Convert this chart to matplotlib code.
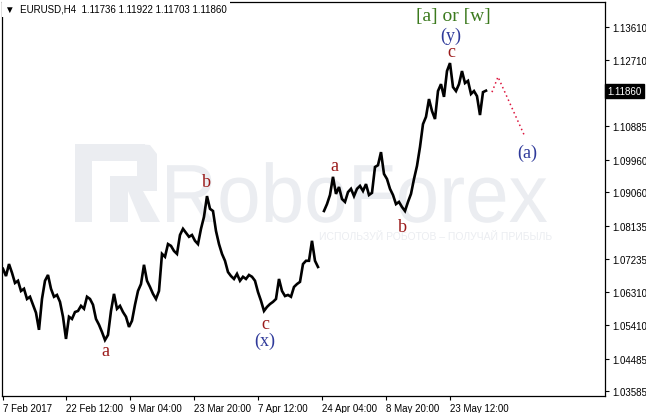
import numpy as np
import matplotlib
matplotlib.use("Agg")
import matplotlib.pyplot as plt
from matplotlib.patches import Polygon, PathPatch
from matplotlib.textpath import TextPath
from matplotlib.font_manager import FontProperties
from matplotlib.transforms import Affine2D, IdentityTransform

# EURUSD H4 closes (one value for roughly every two bars), NaN = gap
close = [
    1.0696, 1.0676, 1.0709, 1.0685, 1.0657, 1.0663, 1.0635, 1.0641, 1.0613, 1.0619,
    1.0597, 1.0575, 1.0528, 1.0613, 1.0663, 1.0679, 1.0641, 1.0619, 1.0624, 1.0605,
    1.0564, 1.0503, 1.0564, 1.0558, 1.0577, 1.0580, 1.0594, 1.0586, 1.0619, 1.0613,
    1.0597, 1.0558, 1.0542, 1.0522, 1.0500, 1.0514, 1.0580, 1.0627, 1.0586, 1.0594,
    1.0577, 1.0564, 1.0536, 1.0553, 1.0597, 1.0635, 1.0654, 1.0707, 1.0663, 1.0646,
    1.0627, 1.0613, 1.0635, 1.0737, 1.0729, 1.0764, 1.0759, 1.0745, 1.0737, 1.0789,
    1.0806, 1.0795, 1.0784, 1.0789, 1.0773, 1.0764, 1.0806, 1.0839, 1.0896, 1.0861,
    1.0855, 1.0800, 1.0764, 1.0737, 1.0718, 1.0687, 1.0676, 1.0668, 1.0682, 1.0663,
    1.0674, 1.0668, 1.0679, 1.0674, 1.0663, 1.0632, 1.0608, 1.0580, 1.0591, 1.0599,
    1.0605, 1.0613, 1.0668, 1.0635, 1.0621, 1.0624, 1.0619, 1.0646, 1.0654, 1.0660,
    1.0709, 1.0718, 1.0718, 1.0773, 1.0718, 1.0701, np.nan, 1.0855, 1.0874, 1.0899,
    1.0949, 1.0902, 1.0921, 1.0888, 1.0880, 1.0907, 1.0916, 1.0896, 1.0916, 1.0924,
    1.0910, 1.0929, 1.0899, 1.0905, 1.0976, 1.0981, 1.1017, 1.0957, 1.0943, 1.0916,
    1.0899, 1.0874, 1.0880, 1.0866, 1.0855, 1.0880, 1.0902, 1.0943, 1.0979, 1.1031,
    1.1094, 1.1114, 1.1163, 1.1130, 1.1108, 1.1185, 1.1204, 1.1169, 1.1240, 1.1262,
    1.1196, 1.1185, 1.1204, 1.1240, 1.1207, 1.1213, 1.1177, 1.1185, 1.1171, 1.1119,
    1.1182, 1.1186,
]

# projected move (dotted)
proj_bars = [163, 165, 174]
proj_prices = [1.1182, 1.1224, 1.1059]

price_ticks = [1.13610, 1.12710, 1.10885, 1.09960, 1.09060, 1.08135,
               1.07235, 1.06310, 1.05410, 1.04485, 1.03585]
last_price = 1.11860
date_labels = ["7 Feb 2017", "22 Feb 12:00", "9 Mar 04:00", "23 Mar 20:00",
               "7 Apr 12:00", "24 Apr 04:00", "8 May 20:00", "23 May 12:00"]
date_pos = [0, 21, 42.3, 63.7, 85, 106.3, 127.7, 149]

RED = "#9b1b1b"
BLUE = "#2f3a9a"
GREEN = "#3c7a1e"
wave_labels = [
    ("a", 34, 1.0470, RED), ("b", 67.7, 1.0935, RED),
    ("c", 87.3, 1.0545, RED), ("(x)", 87.3, 1.0498, BLUE),
    ("a", 110.3, 1.0979, RED), ("b", 133.3, 1.0811, RED),
    ("c", 149.3, 1.1295, RED), ("(y)", 149.3, 1.1339, BLUE),
    ("[a] or [w]", 150, 1.1394, GREEN), ("(a)", 174.7, 1.1017, BLUE),
]

W, H = 646, 414
fig = plt.figure(figsize=(W / 100, H / 100), dpi=100)
ax = fig.add_axes([2 / W, 1 - 397 / H, 603 / W, 394 / H])
ax.set_xlim(-0.33, 200.67)
ax.set_ylim(1.0346, 1.1430)

# watermark (pixel coordinates, y from top)
wm = "#ebedf1"
def px(pts):
    return [(x, H - y) for x, y in pts]
for shape in [
    [(75, 145), (92, 145), (92, 223), (75, 223)],
    [(75, 145), (145, 145), (145, 162), (75, 162)],
    [(137, 145), (150, 146), (157, 155), (157, 192), (137, 192)],
    [(110, 177), (157, 177), (157, 192), (110, 192)],
    [(110, 177), (128, 177), (128, 223), (110, 223)],
    [(128, 192), (143, 192), (160, 223), (141, 223)],
]:
    ax.add_patch(Polygon(px(shape), closed=True, color=wm, lw=0,
                         transform=IdentityTransform(), zorder=0.5))
tp = TextPath((0, 0), "RoboForex", size=100, prop=FontProperties(family="Liberation Sans"))
ext = tp.get_extents()
sx = (547 - 167) / ext.width
sy = 76 / 100 / 0.92  # ascender height ~76 px
tr = Affine2D().translate(-ext.x0, 0).scale(sx, sy).translate(167, H - 223)
ax.add_patch(PathPatch(tr.transform_path(tp), color=wm, lw=0,
                       transform=IdentityTransform(), zorder=0.5))
ax.text(552 / W, 1 - 237 / H, "ИСПОЛЬЗУЙ РОБОТОВ – ПОЛУЧАЙ ПРИБЫЛЬ",
        fontsize=7.5, color=wm, ha="right", va="center", zorder=0.6,
        family="Liberation Sans", transform=fig.transFigure)

x = np.arange(len(close))
ax.plot(x, close, color="black", lw=1.9, solid_joinstyle="miter", zorder=3)
ax.plot(proj_bars, proj_prices, color="#dc143c", lw=1.1, ls=(0, (1, 2)), zorder=3)

for txt, bx, py, col in wave_labels:
    ax.text(bx, py, txt, color=col, fontsize=14 if txt.startswith("[") else 13,
            family="Liberation Serif", ha="center", va="center", zorder=4)

# axes styling like the terminal
for s in ["top", "left", "right", "bottom"]:
    ax.spines[s].set_linewidth(0.9)
ax.yaxis.tick_right()
ax.set_yticks(price_ticks)
ax.set_yticklabels([f"{v:.5f}" for v in price_ticks], family="Liberation Sans")
ax.tick_params(axis="y", direction="out", length=3, width=0.8, labelsize=7, pad=2)
ax.set_xticks(date_pos)
ax.set_xticklabels(date_labels, ha="left", family="Liberation Sans")
ax.tick_params(axis="x", direction="out", length=3, width=0.8, labelsize=7, pad=2)

ax.text(1.004, last_price, f"{last_price:.5f}", transform=ax.get_yaxis_transform(),
        fontsize=7, color="white", va="center", ha="left", family="Liberation Sans",
        bbox=dict(boxstyle="square,pad=0.2", fc="black", ec="black"), zorder=5)

fig.text(5 / W, 1 - 10 / H, "▼  EURUSD,H4  1.11736 1.11922 1.11703 1.11860",
         fontsize=7, va="center", ha="left", family=["Liberation Sans", "DejaVu Sans"],
         bbox=dict(boxstyle="square,pad=0.3", fc="white", ec="none"), zorder=6)

fig.savefig("out.png", dpi=100)
plt.close(fig)
